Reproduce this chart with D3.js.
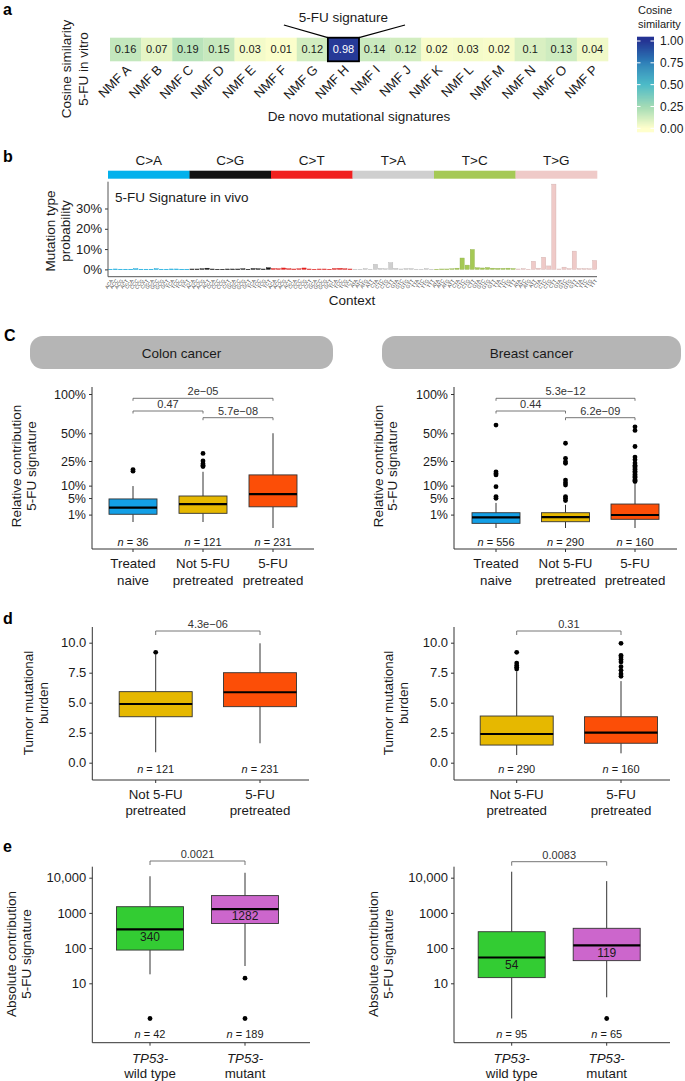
<!DOCTYPE html>
<html><head><meta charset="utf-8">
<script src="https://cdn.jsdelivr.net/npm/d3@7"></script>
<style>body{margin:0;background:#fff}svg{font-family:"Liberation Sans",Arial,Helvetica,sans-serif}</style>
</head><body><svg id="chart" width="685" height="1081"></svg>
<script>
// ---------------- DATA ----------------
const nmfLabels = ["NMF A","NMF B","NMF C","NMF D","NMF E","NMF F","NMF G","NMF H","NMF I","NMF J","NMF K","NMF L","NMF M","NMF N","NMF O","NMF P"];
const cosineSim = [0.16,0.07,0.19,0.15,0.03,0.01,0.12,0.98,0.14,0.12,0.02,0.03,0.02,0.1,0.13,0.04];
const highlightedSig = "NMF H";
const legendTicks = [0,0.25,0.5,0.75,1];

const mutTypes = ["C>A","C>G","C>T","T>A","T>C","T>G"];
const bases = ["A","C","G","T"];
const probCA = [0.1,0.2,0.1,0.1,0.1,0.3,0.1,0.1,0.1,0.3,0.1,0.1,0.2,0.2,0.1,0.1];
const probCG = [0.2,0.2,0.3,0.6,0.2,0.1,0.1,0.2,0.2,0.2,0.3,0.1,0.4,0.3,0.2,0.8];
const probCT = [0.4,0.3,0.7,0.3,0.2,0.3,0.7,0.2,0.1,0.2,0.2,0.1,0.4,0.5,0.3,0.2];
const probTA = [0.1,0.1,0.4,0.1,2.5,0.5,0.3,3.3,0.5,0.2,0.4,0.4,0.1,0.1,0.4,0.1];
const probTC = [0.1,0.2,0.2,0.3,0.6,5.6,2.1,9.8,0.8,0.7,0.9,0.6,0.5,0.5,0.6,0.4];
const probTG = [0.2,0.4,0.1,4.0,0.6,6.0,1.7,42.0,0.2,1.1,0.4,9.0,0.4,0.4,0.3,4.4];
const probTicks = [0,10,20,30];

const groups3 = ["Treated naive","Not 5-FU pretreated","5-FU pretreated"];
const groups3Lines = [["Treated","naive"],["Not 5-FU","pretreated"],["5-FU","pretreated"]];
const relTicks = [0.01,0.05,0.1,0.25,0.5,1];
// [lower whisker, Q1, median, Q3, upper whisker]
const colonRel = [[0.002,0.0105,0.023,0.047,0.098],[0.002,0.012,0.032,0.057,0.176],[0.0,0.025,0.064,0.157,0.50]];
const colonRelOut = [[0.18,0.19],[0.21,0.22,0.23,0.25,0.31],[]];
const colonN = [36,121,231];
const colonP = ["2e\u221205","0.47","5.7e\u221208"];
const breastRel = [[0,0.0012,0.0064,0.013,0.035],[0,0.0022,0.0067,0.013,0.03],[0,0.0042,0.0094,0.032,0.108]];
const breastRelOut = [[0.049,0.055,0.095,0.157,0.165,0.176,0.59],
  [0.042,0.049,0.055,0.103,0.114,0.128,0.233,0.245,0.27,0.40],
  [0.12,0.125,0.13,0.14,0.145,0.15,0.16,0.17,0.18,0.19,0.2,0.21,0.22,0.235,0.26,0.28,0.37,0.53,0.57]];
const breastN = [556,290,160];
const breastP = ["5.3e\u221212","0.44","6.2e\u221209"];

const groups2 = ["Not 5-FU pretreated","5-FU pretreated"];
const groups2Lines = [["Not 5-FU","pretreated"],["5-FU","pretreated"]];
const tmbTicks = [0,2.5,5,7.5,10];
const colonTmb = [[0.87,3.83,4.89,5.92,9.0],[1.62,4.67,5.87,7.5,9.95]];
const colonTmbOut = [[9.2],[]];
const colonTmbN = [121,231];
const colonTmbP = "4.3e\u221206";
const breastTmb = [[0.64,1.47,2.39,3.89,7.6],[0.78,1.62,2.5,3.83,6.8]];
const breastTmbOut = [[7.8,7.95,8.1,8.3,9.2],[7.2,7.4,7.7,8.0,8.4,8.6,8.8,8.95,9.95]];
const breastTmbN = [290,160];
const breastTmbP = "0.31";

const tp53Groups = ["TP53-wild type","TP53-mutant"];
const tp53Lines = [["TP53-","wild type"],["TP53-","mutant"]];
const absTicks = [10,100,1000,10000];
const colonAbs = [[18,88,340,1500,11000],[31,500,1282,3100,13800]];
const colonAbsOut = [[1],[14,1]];
const colonAbsN = [42,189];
const colonAbsP = "0.0021";
const breastAbs = [[1,14.5,54,292,14800],[4,44,119,365,8000]];
const breastAbsOut = [[],[1]];
const breastAbsN = [95,65];
const breastAbsP = "0.0083";

// ---------------- STYLE ----------------
const FONT = "'Liberation Sans', Arial, Helvetica, sans-serif";
const mutColors = ["#03b1ec","#111111","#f0201f","#cfcfcf","#a5c955","#efcac8"];
const col3 = ["#139fe6","#e6b800","#fc4e07"];
const col2 = ["#e6b800","#fc4e07"];
const colTP = ["#33cc33","#cc66cc"];
const TXT = "#1a1a1a";
const AX = "#333";

const svg = d3.select("#chart");

function text(g,x,y,s,o={}){
  const t=g.append("text").attr("x",x).attr("y",y).text(s)
    .attr("font-size",o.size||13.5).attr("fill",o.fill||TXT)
    .attr("text-anchor",o.anchor||"middle");
  if(o.weight) t.attr("font-weight",o.weight);
  if(o.italic) t.attr("font-style","italic");
  return t;
}
function vtext(g,x,cy,s,size=13.5){
  g.append("text").attr("transform",`translate(${x},${cy}) rotate(-90)`)
    .attr("text-anchor","middle").attr("dy","0.35em").attr("font-size",size).attr("fill",TXT).text(s);
}

// panel letters
[["a",3,15],["b",3,162],["C",4,341],["d",3,624],["e",3,852]].forEach(([s,x,y])=>
  text(svg,x,y,s,{size:16,weight:"bold",anchor:"start",fill:"#000"}));

// ---------------- PANEL A ----------------
(function(){
  const g=svg.append("g");
  const top=37.7,bot=61.3;
  const x=d3.scaleBand().domain(nmfLabels).range([110,608]);
  const col=d3.scaleLinear().domain(legendTicks).range(["#ffffcc","#a1dab4","#41b6c4","#2c7fb8","#253494"]).clamp(true);
  g.selectAll("rect.cell").data(nmfLabels).join("rect")
    .attr("x",d=>x(d)).attr("y",top).attr("width",x.bandwidth()+0.3).attr("height",bot-top)
    .attr("fill",(d,i)=>col(cosineSim[i]));
  g.selectAll("text.val").data(nmfLabels).join("text")
    .attr("x",d=>x(d)+x.bandwidth()/2).attr("y",(top+bot)/2).attr("dy","0.36em")
    .attr("text-anchor","middle").attr("font-size",11)
    .attr("fill",(d,i)=>cosineSim[i]>0.6?"#fff":TXT).text((d,i)=>cosineSim[i]);
  const hx=x(highlightedSig), bw=x.bandwidth();
  g.append("rect").attr("x",hx).attr("y",top).attr("width",bw).attr("height",bot-top)
    .attr("fill","none").attr("stroke","#000").attr("stroke-width",1.8);
  g.append("line").attr("x1",hx-44).attr("y1",25).attr("x2",hx).attr("y2",top).attr("stroke","#000").attr("stroke-width",1.2);
  g.append("line").attr("x1",hx+bw+46).attr("y1",25).attr("x2",hx+bw).attr("y2",top).attr("stroke","#000").attr("stroke-width",1.2);
  text(g,hx+bw/2,21.5,"5-FU signature");
  nmfLabels.forEach(d=>{
    g.append("text").attr("transform",`translate(${x(d)+bw/2+3},${bot+6}) rotate(-45)`)
      .attr("text-anchor","end").attr("dy","0.35em").attr("font-size",13).attr("fill",TXT).text(d);
  });
  text(g,359,121,"De novo mutational signatures");
  vtext(g,66.5,69,"Cosine similarity");
  vtext(g,83,69,"5-FU in vitro");
  // legend
  const ly=d3.scaleLinear().domain([0,1]).range([128.3,41]);
  const lx0=637,lx1=654;
  const y0=ly(1)-4.3, y1=ly(0)+3.5, nS=96;
  d3.range(nS).forEach(i=>{
    const ya=y0+(y1-y0)*i/nS, yb=y0+(y1-y0)*(i+1)/nS;
    g.append("rect").attr("x",lx0).attr("y",ya).attr("width",lx1-lx0).attr("height",yb-ya+0.5)
      .attr("fill",col(ly.invert((ya+yb)/2)));
  });
  legendTicks.forEach(t=>{
    g.append("line").attr("x1",lx0).attr("x2",lx0+3.5).attr("y1",ly(t)).attr("y2",ly(t)).attr("stroke","#fff");
    g.append("line").attr("x1",lx1-3.5).attr("x2",lx1).attr("y1",ly(t)).attr("y2",ly(t)).attr("stroke","#fff");
    text(g,lx1+6,ly(t),d3.format(".2f")(t),{anchor:"start",size:12}).attr("dy","0.35em");
  });
  text(g,638,14,"Cosine",{anchor:"start",size:11});
  text(g,638,28,"similarity",{anchor:"start",size:11});
})();

// ---------------- PANEL B ----------------
(function(){
  const g=svg.append("g");
  const x0=108,x1=597, top=181.7, bot=276.7;
  const probs=[probCA,probCG,probCT,probTA,probTC,probTG];
  const keys=[], vals=[], typeIdx=[];
  mutTypes.forEach((mt,ti)=>{
    bases.forEach((b5,i5)=>bases.forEach((b3,i3)=>{
      keys.push(mt+"|"+b5+mt[0]+b3); vals.push(probs[ti][i5*4+i3]); typeIdx.push(ti);
    }));
  });
  const x=d3.scaleBand().domain(keys).range([x0,x1]).paddingInner(0.18).paddingOuter(0.05);
  const y=d3.scaleLinear().domain([-3.6,43.2]).range([bot,top]);
  const fw=(x1-x0)/6;
  mutTypes.forEach((mt,i)=>{
    g.append("rect").attr("x",x0+i*fw).attr("y",170.7).attr("width",fw+0.3).attr("height",8).attr("fill",mutColors[i]);
    text(g,x0+(i+0.5)*fw,164.5,mt);
  });
  g.selectAll("rect.bar").data(keys).join("rect")
    .attr("x",d=>x(d)).attr("width",x.bandwidth())
    .attr("y",(d,i)=>y(vals[i])).attr("height",(d,i)=>Math.max(0.6,y(0)-y(vals[i])))
    .attr("fill",(d,i)=>mutColors[typeIdx[i]])
    .attr("stroke",(d,i)=>d3.color(mutColors[typeIdx[i]]).darker(0.4)).attr("stroke-width",0.4);
  const ya=d3.axisLeft(y).tickValues(probTicks).tickFormat(d=>d+"%").tickSize(3).tickPadding(3);
  const gy=g.append("g").attr("transform",`translate(${x0},0)`).call(ya);
  gy.select(".domain").remove();
  gy.selectAll("text").attr("font-size",13).attr("fill",TXT).attr("font-family",FONT);
  gy.selectAll("line").attr("stroke",AX);
  g.append("line").attr("x1",x0).attr("x2",x0).attr("y1",top).attr("y2",bot).attr("stroke","#555");
  g.append("line").attr("x1",x0).attr("x2",x1).attr("y1",bot).attr("y2",bot).attr("stroke","#555");
  keys.forEach(k=>{
    g.append("text").attr("transform",`translate(${x(k)+x.bandwidth()/2+1.5},${bot+3}) rotate(-55)`)
      .attr("text-anchor","end").attr("dy","0.35em").attr("font-size",5).attr("fill","#444").text(k.split("|")[1]);
  });
  text(g,115,201.5,"5-FU Signature in vivo",{anchor:"start"});
  text(g,352,305,"Context");
  vtext(g,50,231,"Mutation type");
  vtext(g,65,231,"probability");
})();

// ---------------- PANEL C headers ----------------
[[30,333,"Colon cancer"],[382,681,"Breast cancer"]].forEach(([a,b,s])=>{
  svg.append("rect").attr("x",a).attr("y",336).attr("width",b-a).attr("height",33).attr("rx",13)
    .attr("fill","#b5b5b5");
  text(svg,(a+b)/2,358,s,{size:13.5});
});

// ---------------- BOX PANEL HELPER ----------------
function boxPanel(c){
  const g=svg.append("g");
  const x=d3.scalePoint().domain(c.cats).range(c.centers);
  const y=c.y;
  const [ax0,ax1]=c.xAxis,[ay0,ay1]=c.yAxis;
  const ya=d3.axisLeft(y).tickValues(c.ticks).tickFormat(c.fmt).tickSize(3).tickPadding(3);
  const gy=g.append("g").attr("transform",`translate(${ax0},0)`).call(ya);
  gy.select(".domain").remove();
  gy.selectAll("text").attr("font-size",c.tickSize||13).attr("fill",TXT).attr("font-family",FONT);
  gy.selectAll("line").attr("stroke",AX);
  g.append("line").attr("x1",ax0).attr("x2",ax0).attr("y1",ay0).attr("y2",ay1).attr("stroke",AX);
  g.append("line").attr("x1",ax0).attr("x2",ax1).attr("y1",ay1).attr("y2",ay1).attr("stroke",AX);
  c.cats.forEach((cat,i)=>{
    const cx=x(cat), w=c.boxW, [lo,q1,md,q3,hi]=c.stats[i];
    g.append("line").attr("x1",cx).attr("x2",cx).attr("y1",ay1).attr("y2",ay1+3).attr("stroke",AX);
    g.append("line").attr("x1",cx).attr("x2",cx).attr("y1",y(lo)).attr("y2",y(q1)).attr("stroke",AX);
    g.append("line").attr("x1",cx).attr("x2",cx).attr("y1",y(q3)).attr("y2",y(hi)).attr("stroke",AX);
    g.append("rect").attr("x",cx-w/2).attr("y",y(q3)).attr("width",w).attr("height",y(q1)-y(q3))
      .attr("fill",c.colors[i]).attr("stroke","#333").attr("stroke-width",0.9);
    g.append("line").attr("x1",cx-w/2).attr("x2",cx+w/2).attr("y1",y(md)).attr("y2",y(md))
      .attr("stroke","#000").attr("stroke-width",2.2);
    (c.out[i]||[]).forEach(v=>g.append("circle").attr("cx",cx).attr("cy",y(v)).attr("r",2.4).attr("fill","#000"));
    if(c.medLabel) text(g,cx,y(md)+7,d3.format("d")(md),{size:12}).attr("dy","0.35em");
    const nt=g.append("text").attr("x",cx).attr("y",c.nY).attr("text-anchor","middle").attr("font-size",11).attr("fill",TXT);
    nt.append("tspan").attr("font-style","italic").text("n");
    nt.append("tspan").text(" = "+c.n[i]);
    c.lines[i].forEach((s,j)=>text(g,cx,c.labY[j],s,{size:13.3,italic:c.italicFirst&&j===0}));
  });
  c.brackets.forEach(b=>{
    const xa=x(c.cats[b[0]]), xb=x(c.cats[b[1]]);
    g.append("path").attr("d",`M${xa},${b[2]+c.tip}V${b[2]}H${xb}V${b[2]+c.tip}`)
      .attr("fill","none").attr("stroke","#666").attr("stroke-width",0.9);
    text(g,(xa+xb)/2,b[2]-3,b[3],{size:11,fill:"#333"});
  });
  c.title.forEach((s,j)=>vtext(g,c.titleX[j],c.titleY,s));
}

// ---------------- PANEL C ----------------
const yRel=d3.scaleSqrt().domain([0,1]).range([528,394]);
const fmtPct=d3.format(".0%");
const relCommon={cats:groups3,lines:groups3Lines,ticks:relTicks,fmt:fmtPct,y:yRel,boxW:48,colors:col3,tickSize:12.5,
  yAxis:[387,549],nY:545.6,labY:[568,584.5],tip:2.5,title:["Relative contribution","5-FU signature"],titleY:466};
boxPanel(Object.assign({},relCommon,{centers:[133,273],xAxis:[92,314],stats:colonRel,out:colonRelOut,n:colonN,
  brackets:[[0,2,398.3,colonP[0]],[0,1,411,colonP[1]],[1,2,417.7,colonP[2]]],titleX:[16.7,31.7]}));
boxPanel(Object.assign({},relCommon,{centers:[496,635],xAxis:[454,677],stats:breastRel,out:breastRelOut,n:breastN,
  brackets:[[0,2,398.3,breastP[0]],[0,1,411,breastP[1]],[1,2,417.7,breastP[2]]],titleX:[378.3,392]}));

// ---------------- PANEL D ----------------
const yTmb=d3.scaleLinear().domain([0,10]).range([762.7,642.7]);
const tmbCommon={cats:groups2,lines:groups2Lines,ticks:tmbTicks,fmt:d3.format(".1f"),y:yTmb,boxW:73,colors:col2,
  yAxis:[627,780],nY:773.2,labY:[799,814.5],tip:4,title:["Tumor mutational","burden"],titleY:703};
boxPanel(Object.assign({},tmbCommon,{centers:[155.7,260],xAxis:[92.3,309],stats:colonTmb,out:colonTmbOut,n:colonTmbN,
  brackets:[[0,1,631,colonTmbP]],titleX:[28.3,43.3]}));
boxPanel(Object.assign({},tmbCommon,{centers:[516.7,621],xAxis:[454,670],stats:breastTmb,out:breastTmbOut,n:breastTmbN,
  brackets:[[0,1,631,breastTmbP]],titleX:[388.3,403.3]}));

// ---------------- PANEL E ----------------
const yAbs=d3.scaleLog().domain([1,10000]).range([1018.5,877.7]);
const fmtAbs=d=>d>=10000?d3.format(",")(d):d3.format("d")(d);
const absCommon={cats:tp53Groups,lines:tp53Lines,italicFirst:true,ticks:absTicks,fmt:fmtAbs,y:yAbs,boxW:67,colors:colTP,
  yAxis:[866.7,1042.7],nY:1038.2,labY:[1063,1078],tip:4,medLabel:true,title:["Absolute contribution","5-FU signature"],titleY:954};
boxPanel(Object.assign({},absCommon,{centers:[150,245],xAxis:[92.3,310],stats:colonAbs,out:colonAbsOut,n:colonAbsN,
  brackets:[[0,1,861,colonAbsP]],titleX:[11.7,26.7]}));
boxPanel(Object.assign({},absCommon,{centers:[511.7,606.7],xAxis:[454,670],stats:breastAbs,out:breastAbsOut,n:breastAbsN,
  brackets:[[0,1,861.7,breastAbsP]],titleX:[373.3,388.3]}));
</script></body></html>
